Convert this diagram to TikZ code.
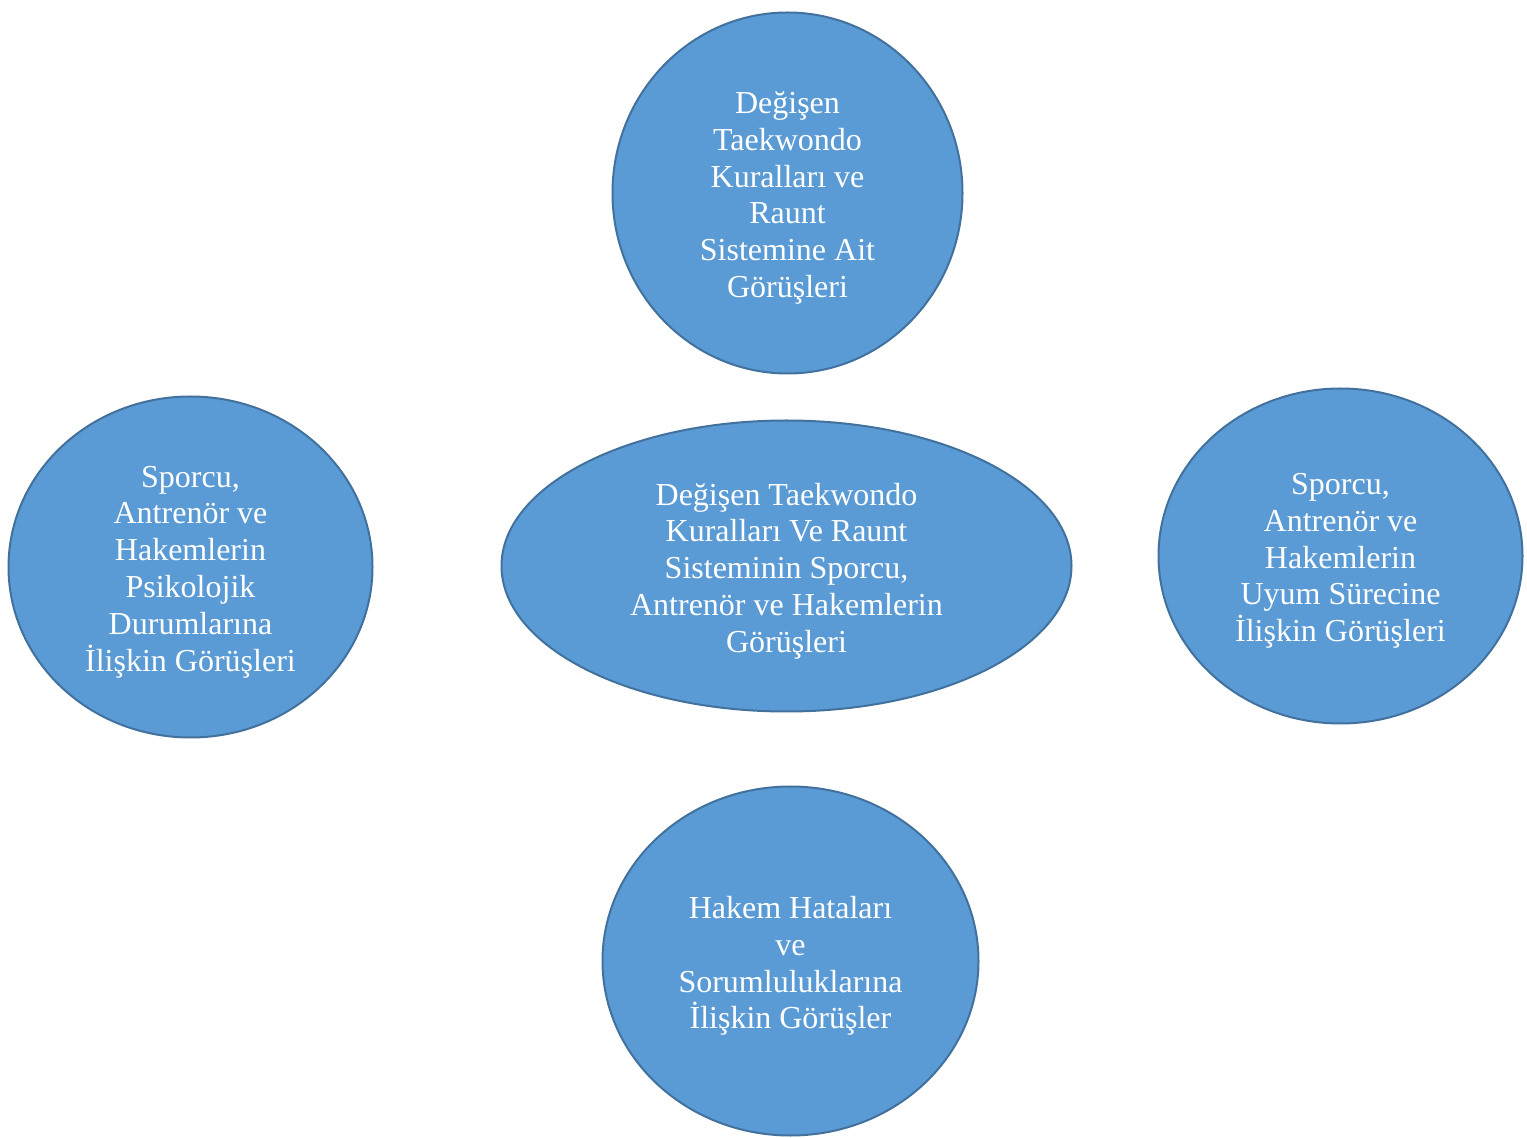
\documentclass[tikz,border=0pt]{standalone}
\usepackage{fontspec}
\setmainfont{Liberation Serif}
\usetikzlibrary{shapes.geometric}
\definecolor{blobfill}{HTML}{5B9BD5}
\definecolor{blobline}{HTML}{41719C}
\begin{document}
\begin{tikzpicture}[x=0.5pt,y=-0.5pt,
  blob/.style={ellipse, draw=blobline, fill=blobfill, line width=1pt, inner sep=0pt},
  lbl/.style={inner sep=0pt, text=white, align=center, font={\fontsize{16}{18.4}\selectfont}}]
\useasboundingbox (0,0) rectangle (1527,1138);
\node[blob, minimum width=175pt, minimum height=180.5pt] (top) at (787.5,193) {};
\node[lbl] (toptext) at ([yshift=-2.5pt]top.center)
  {Değişen\\Taekwondo\\Kuralları ve\\Raunt\\Sistemine Ait\\Görüşleri};
\node[blob, minimum width=182pt, minimum height=170.5pt] (left) at (190.5,567) {};
\node[lbl] (lefttext) at ([yshift=-2.5pt]left.center)
  {Sporcu,\\Antrenör ve\\Hakemlerin\\Psikolojik\\Durumlarına\\İlişkin Görüşleri};
\node[blob, minimum width=285pt, minimum height=145.5pt] (center) at (786.5,566) {};
\node[lbl] (centertext) at ([yshift=-2.5pt]center.center)
  {Değişen Taekwondo\\Kuralları Ve Raunt\\Sisteminin Sporcu,\\Antrenör ve Hakemlerin\\Görüşleri};
\node[blob, minimum width=182pt, minimum height=167.5pt] (right) at (1340.5,556) {};
\node[lbl] (righttext) at ([yshift=-2.5pt]right.center)
  {Sporcu,\\Antrenör ve\\Hakemlerin\\Uyum Sürecine\\İlişkin Görüşleri};
\node[blob, minimum width=188pt, minimum height=174.5pt] (bottom) at (790.5,961) {};
\node[lbl] (bottomtext) at ([yshift=-2.5pt]bottom.center)
  {Hakem Hataları\\ve\\Sorumluluklarına\\İlişkin Görüşler};
\end{tikzpicture}
\end{document}
